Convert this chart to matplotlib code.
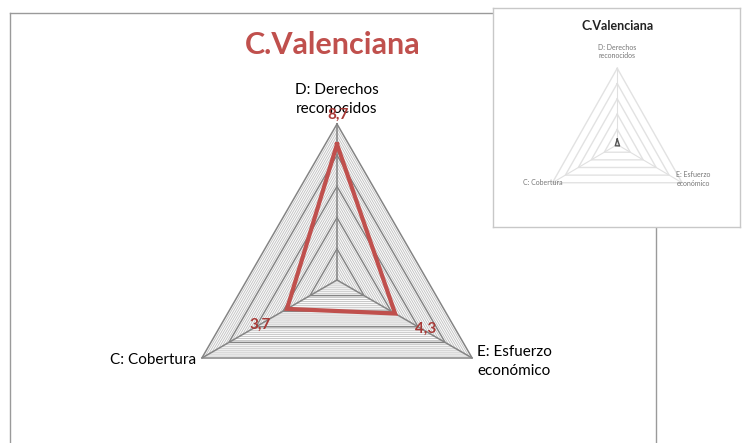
import numpy as np
import matplotlib.pyplot as plt
from matplotlib.lines import Line2D

plt.rcParams['font.family'] = ['Lato', 'DejaVu Sans']

# datos
categorias = ['D: Derechos\nreconocidos', 'E: Esfuerzo\neconómico', 'C: Cobertura']
valores = [8.7, 4.3, 3.7]
etiquetas = ['8,7', '4,3', '3,7']
angulos = np.deg2rad([90, -30, 210])
r_max = 10
anillos = [2, 4, 6, 8, 10]

rojo = '#C0504D'
rojo_osc = '#A83A37'

fig = plt.figure(figsize=(7.44, 4.43), dpi=100)
W, H = 744, 443

# eje principal en unidades del radar (15.6 px por unidad)
esc = 15.6
cx, cy = 337, 280
ax = fig.add_axes([0, 0, 1, 1])
ax.set_xlim(-cx / esc, (W - cx) / esc)
ax.set_ylim(-(H - cy) / esc, cy / esc)
ax.set_aspect('equal')
ax.axis('off')


def tri(r):
    xs = r * np.cos(angulos)
    ys = r * np.sin(angulos)
    return np.append(xs, xs[0]), np.append(ys, ys[0])


# rayado fino (triangulos concentricos)
for r in np.arange(0.25, r_max, 0.25):
    if r in anillos:
        continue
    x, y = tri(r)
    ax.plot(x, y, color='#c6c6c6', lw=0.7, zorder=1)

for r in anillos:
    x, y = tri(r)
    ax.plot(x, y, color='#848484', lw=1.1, zorder=2)

for a in angulos:
    ax.plot([0, r_max * np.cos(a)], [0, r_max * np.sin(a)], color='#848484', lw=1.1, zorder=2)

# serie
vx = np.array(valores) * np.cos(angulos)
vy = np.array(valores) * np.sin(angulos)
ax.plot(np.append(vx, vx[0]), np.append(vy, vy[0]), color=rojo, lw=3.0,
        solid_joinstyle='miter', zorder=3)

# etiquetas de datos
ax.text(0.05, 10.6, etiquetas[0], color=rojo_osc, fontsize=11, fontweight='bold',
        ha='center', va='center', zorder=4)
ax.text(5.65, -3.15, etiquetas[1], color=rojo_osc, fontsize=11, fontweight='bold',
        ha='center', va='center', zorder=4)
ax.text(-4.95, -2.85, etiquetas[2], color=rojo_osc, fontsize=11, fontweight='bold',
        ha='center', va='center', zorder=4)

# etiquetas de categorias
ax.text(0, 11.6, categorias[0], fontsize=11, ha='center', va='center', linespacing=1.45)
ax.text(9.0, -5.2, categorias[1], fontsize=11, ha='left', va='center', linespacing=1.45)
ax.text(-9.05, -5.1, categorias[2], fontsize=11, ha='right', va='center')

# titulo
fig.text(333 / W, 1 - 45 / H, 'C.Valenciana', color=rojo, fontsize=22,
         fontweight='bold', ha='center', va='center')

# marco del grafico
borde = dict(color='#9a9a9a', lw=1.0, transform=fig.transFigure, zorder=1)
fig.add_artist(Line2D([10 / W, 10 / W], [0, 1 - 13 / H], **borde))
fig.add_artist(Line2D([10 / W, 656 / W], [1 - 13 / H, 1 - 13 / H], **borde))
fig.add_artist(Line2D([656 / W, 656 / W], [0, 1 - 13 / H], **borde))

# miniatura (version atenuada)
ins = fig.add_axes([493 / W, 1 - 227 / H, (740 - 493) / W, (227 - 8) / H])
ins.set_zorder(5)
ins.set_facecolor('white')
ins.set_xticks([])
ins.set_yticks([])
for s in ins.spines.values():
    s.set_color('#c8c8c8')
    s.set_linewidth(1.0)
ins.set_xlim(-16.6, 16.4)
ins.set_ylim(-10.8, 17.9)
for r in anillos:
    x, y = tri(r)
    ins.plot(x, y, color='#e2e2e2', lw=1.0)
for a in angulos:
    ins.plot([0, r_max * np.cos(a)], [0, r_max * np.sin(a)], color='#e0e0e0', lw=0.8)
mini = np.array(valores) / 12
mx = mini * np.cos(angulos)
my = mini * np.sin(angulos)
ins.plot(np.append(mx, mx[0]), np.append(my, my[0]), color='#555555', lw=1.0)
ins.text(0, 15.5, 'C.Valenciana', fontsize=9, fontweight='bold', ha='center', va='center',
         color='#222222')
ins.text(0, 12.2, categorias[0], fontsize=5, ha='center', va='center', color='#777777')
ins.text(7.9, -4.5, categorias[1], fontsize=5, ha='left', va='center', color='#777777')
ins.text(-7.3, -5.0, categorias[2], fontsize=5, ha='right', va='center', color='#777777')

fig.savefig('out.png', dpi=100)
